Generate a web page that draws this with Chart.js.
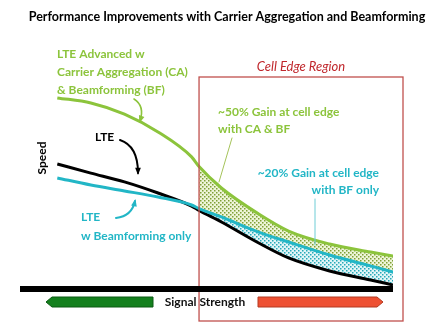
<!DOCTYPE html>
<html>
<head>
<meta charset="utf-8">
<script src="https://cdn.jsdelivr.net/npm/chart.js@4"></script>
<style>
  html, body { margin: 0; padding: 0; background: #fff; }
  canvas { display: block; }
</style>
</head>
<body>
<canvas id="grafica" width="438" height="330"></canvas>
<script>
// signal strength (arbitrary units)
const signal = [10, 19, 28, 37, 46, 48, 54, 64, 72, 83, 94, 100];
// speed for each technology
const lteAdvanced = [91.0, 88.6, 83.3, 74.8, 62.9, 58.3, 48.1, 35.7, 27.6, 21.4, 17.6, 15.7];
const lteBeamforming = [52.9, 49.5, 46.7, 43.8, 40.0, 38.3, 34.3, 27.1, 22.4, 16.2, 11.0, 8.1];
const lte = [59.5, 55.2, 51.0, 45.7, 39.5, 37.4, 31.9, 21.9, 14.8, 8.6, 4.3, 1.9];
const cellEdgeStart = 48;

const GREEN = '#8cc43c';
const CYAN = '#22b6c6';
const FONT = 'Lato, "Open Sans", sans-serif';

function puntos(ys) {
    return signal.map((x, i) => ({ x: x, y: ys[i] }));
}
function borde(ys) {
    return puntos(ys).filter(p => p.x >= cellEdgeStart);
}

// dotted fill patterns
function patron(fondo, punto) {
    const c = document.createElement('canvas');
    c.width = 4; c.height = 4;
    const g = c.getContext('2d');
    g.fillStyle = fondo;
    g.fillRect(0, 0, 4, 4);
    g.fillStyle = punto;
    g.fillRect(0, 0, 1.5, 1.5);
    g.fillRect(2, 2, 1.5, 1.5);
    return g.createPattern(c, 'repeat');
}
const ctx = document.getElementById('grafica').getContext('2d');
const puntosVerdes = patron('#eef5d8', '#7f9f35');
const puntosCyan = patron('#e2f5f7', '#25a9b8');

function texto(c, s, x, y, font, color, align) {
    c.font = font;
    c.fillStyle = color;
    c.textAlign = align || 'left';
    c.textBaseline = 'middle';
    c.fillText(s, x, y);
}

function flecha(c, x0, y0, cx, cy, x1, y1, color, ancho) {
    c.strokeStyle = color;
    c.fillStyle = color;
    c.lineWidth = ancho;
    c.lineCap = 'round';
    c.beginPath();
    c.moveTo(x0, y0);
    c.quadraticCurveTo(cx, cy, x1, y1);
    c.stroke();
    const ang = Math.atan2(y1 - cy, x1 - cx);
    const L = 6;
    c.beginPath();
    c.moveTo(x1 + Math.cos(ang) * 2, y1 + Math.sin(ang) * 2);
    c.lineTo(x1 - Math.cos(ang - 0.5) * L, y1 - Math.sin(ang - 0.5) * L);
    c.lineTo(x1 - Math.cos(ang + 0.5) * L, y1 - Math.sin(ang + 0.5) * L);
    c.closePath();
    c.fill();
}

const diagrama = {
    id: 'diagrama',
    afterDatasetsDraw(chart) {
        const c = chart.ctx;
        const area = chart.chartArea;
        const xs = chart.scales.x;
        const left = xs.getPixelForValue(cellEdgeStart);
        c.save();
        // cell edge box
        c.strokeStyle = '#c0504d';
        c.lineWidth = 1.3;
        c.strokeRect(left, area.top - 2, area.right + 10 - left, area.bottom + 34 - area.top);
        texto(c, 'Cell Edge Region', (left + area.right + 10) / 2, area.top - 12, 'italic 13px ' + FONT, '#c0282d', 'center');

        // x axis bar
        c.fillStyle = '#000';
        c.fillRect(area.left, area.bottom - 3, area.right - area.left, 6);

        // direction arrows under the axis
        const yb = area.bottom + 13;
        c.fillStyle = '#14801e';
        c.strokeStyle = '#0b5a12';
        c.lineWidth = 1;
        c.beginPath();
        c.moveTo(area.left + 26, yb);
        c.lineTo(area.left + 32, yb - 5);
        c.lineTo(area.left + 133, yb - 5);
        c.lineTo(area.left + 133, yb + 5);
        c.lineTo(area.left + 32, yb + 5);
        c.closePath();
        c.fill(); c.stroke();
        c.fillStyle = '#ee5133';
        c.strokeStyle = '#b33a22';
        c.beginPath();
        c.moveTo(258, yb - 5);
        c.lineTo(377, yb - 5);
        c.lineTo(383, yb);
        c.lineTo(377, yb + 5);
        c.lineTo(258, yb + 5);
        c.closePath();
        c.fill(); c.stroke();
        texto(c, 'Signal Strength', 205, yb, 'bold 12px ' + FONT, '#111', 'center');

        // titles and labels
        texto(c, 'Performance Improvements with Carrier Aggregation and Beamforming', 227, 17, 'bold 12.5px ' + FONT, '#000', 'center');
        c.save();
        c.translate(42, 158);
        c.rotate(-Math.PI / 2);
        texto(c, 'Speed', 0, 0, 'bold 12px ' + FONT, '#000', 'center');
        c.restore();

        const fg = 'bold 12px ' + FONT;
        texto(c, 'LTE Advanced w', 57, 54, fg, GREEN);
        texto(c, 'Carrier Aggregation (CA)', 57, 72, fg, GREEN);
        texto(c, '& Beamforming (BF)', 57, 90, fg, GREEN);
        flecha(c, 134, 99, 145, 106, 140, 121, GREEN, 1.6);

        texto(c, 'LTE', 95, 137, fg, '#000');
        flecha(c, 120, 140, 138, 146, 138, 173, '#000', 2);

        texto(c, 'LTE', 81, 217, fg, CYAN);
        texto(c, 'w Beamforming only', 81, 236, fg, CYAN);
        flecha(c, 116, 218, 132, 216, 135, 201, CYAN, 2);

        texto(c, '~50% Gain at cell edge', 218, 112, fg, GREEN);
        texto(c, 'with CA & BF', 218, 129, fg, GREEN);
        c.strokeStyle = '#a5c35a';
        c.lineWidth = 1;
        c.beginPath();
        c.moveTo(232, 138);
        c.lineTo(219, 182);
        c.stroke();

        texto(c, '~20% Gain at cell edge', 379, 173, fg, CYAN, 'right');
        texto(c, 'with BF only', 379, 190, fg, CYAN, 'right');
        c.strokeStyle = '#6fcdd6';
        c.beginPath();
        c.moveTo(315, 199);
        c.lineTo(315, 245);
        c.stroke();
        c.restore();
    }
};

const linea = (data, color, ancho) => ({
    data: data,
    borderColor: color,
    borderWidth: ancho,
    pointRadius: 0,
    fill: false,
    cubicInterpolationMode: 'monotone',
    order: 0
});
const relleno = (data, target, pattern) => ({
    data: data,
    borderWidth: 0,
    borderColor: 'rgba(0,0,0,0)',
    pointRadius: 0,
    fill: target === null ? false : { target: target, above: pattern, below: pattern },
    cubicInterpolationMode: 'monotone',
    order: 5
});

new Chart(ctx, {
    type: 'line',
    data: {
        datasets: [
            linea(puntos(lteAdvanced), GREEN, 3),
            linea(puntos(lteBeamforming), CYAN, 3),
            linea(puntos(lte), '#000', 3),
            relleno(borde(lteAdvanced), 4, puntosVerdes),
            relleno(borde(lteBeamforming), 5, puntosCyan),
            relleno(borde(lte), null, null)
        ]
    },
    options: {
        responsive: false,
        animation: false,
        layout: { padding: { left: 20, right: 45, top: 79, bottom: 41 } },
        scales: {
            x: { type: 'linear', min: 0, max: 100, display: false },
            y: { min: 0, max: 100, display: false }
        },
        plugins: {
            legend: { display: false },
            tooltip: { enabled: false }
        }
    },
    plugins: [diagrama]
});
</script>
</body>
</html>
